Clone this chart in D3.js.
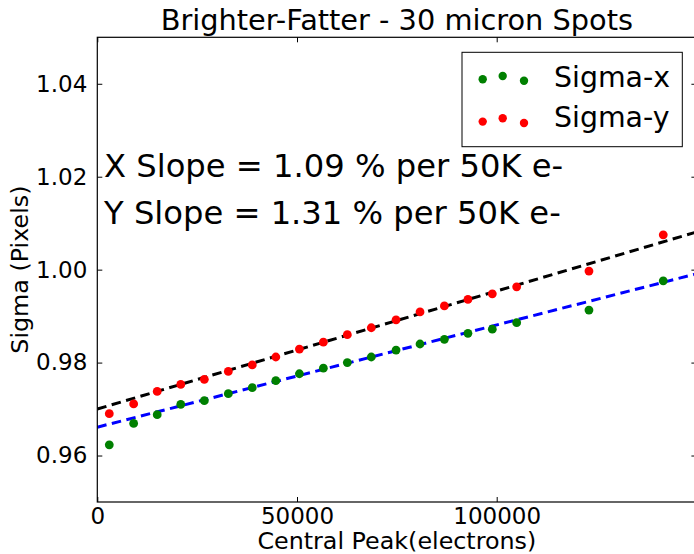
<!DOCTYPE html>
<html>
<head>
<meta charset="utf-8">
<script src="https://cdn.jsdelivr.net/npm/d3@7"></script>
<style>
  html, body { margin: 0; padding: 0; background: #fff; }
  svg { display: block; }
  text { font-family: "DejaVu Sans", sans-serif; fill: #000; }
</style>
</head>
<body>
<svg id="chart" width="694" height="554"></svg>
<script>
// ---- data ----
const centralPeak = [3000, 9100, 15000, 20900, 26800, 32800, 38800, 44700, 50600, 56600,
                     62600, 68600, 74800, 80800, 86900, 92800, 98900, 105000, 123100, 141700];
const sigmaX = [0.9623, 0.9669, 0.9688, 0.9710, 0.9718, 0.9733, 0.9746, 0.9761, 0.9776, 0.9788,
                0.9800, 0.9812, 0.9827, 0.9840, 0.9850, 0.9863, 0.9872, 0.9886, 0.9913, 0.9976];
const sigmaY = [0.9690, 0.9711, 0.9738, 0.9753, 0.9764, 0.9781, 0.9795, 0.9812, 0.9829, 0.9844,
                0.9860, 0.9875, 0.9892, 0.9909, 0.9922, 0.9936, 0.9948, 0.9963, 0.9997, 1.0075];
// linear fits: [intercept, change per 50K electrons]
const fitX = [0.9661, 0.0110];
const fitY = [0.9700, 0.0127];
const xTicks = [0, 50000, 100000];
const yTicks = [0.96, 0.98, 1.00, 1.02, 1.04];
const xDomain = [0, 150000];
const yDomain = [0.95, 1.05];
const seriesNames = ["Sigma-x", "Sigma-y"];
const annotations = ["X Slope = 1.09 % per 50K e-", "Y Slope = 1.31 % per 50K e-"];

// ---- layout ----
const svg = d3.select("#chart");
const L = 97.3, R = 696.4, T = 37.3, B = 502;
const x = d3.scaleLinear().domain(xDomain).range([L, R]);
const y = d3.scaleLinear().domain(yDomain).range([B, T]);

svg.append("defs").append("clipPath").attr("id", "clip")
  .append("rect").attr("x", L).attr("y", T).attr("width", R - L).attr("height", B - T);

const plot = svg.append("g").attr("clip-path", "url(#clip)");

// fit lines
const lineGen = d3.line().x(d => x(d[0])).y(d => y(d[1]));
function fitPts(f) { return xDomain.map(v => [v, f[0] + f[1] * v / 50000]); }
plot.append("path").datum(fitPts(fitY)).attr("d", lineGen)
  .attr("fill", "none").attr("stroke", "#000").attr("stroke-width", 3).attr("stroke-dasharray", "9.5,5.5");
plot.append("path").datum(fitPts(fitX)).attr("d", lineGen)
  .attr("fill", "none").attr("stroke", "#0000ff").attr("stroke-width", 3).attr("stroke-dasharray", "9.5,5.5");

// points
plot.selectAll("circle.sx").data(centralPeak).join("circle").attr("class", "sx")
  .attr("cx", d => x(d)).attr("cy", (d, i) => y(sigmaX[i])).attr("r", 4.4).attr("fill", "#008000");
plot.selectAll("circle.sy").data(centralPeak).join("circle").attr("class", "sy")
  .attr("cx", d => x(d)).attr("cy", (d, i) => y(sigmaY[i])).attr("r", 4.4).attr("fill", "#ff0000");

// axes (matplotlib classic: inward ticks on all sides)
const tl = 5;
const gx = svg.append("g").attr("transform", `translate(0,${B})`)
  .call(d3.axisBottom(x).tickValues(xTicks).tickSizeInner(-tl).tickSizeOuter(0).tickPadding(6).tickFormat(d3.format("d")));
const gxt = svg.append("g").attr("transform", `translate(0,${T})`)
  .call(d3.axisTop(x).tickValues(xTicks).tickSizeInner(-tl).tickSizeOuter(0).tickFormat(""));
const gy = svg.append("g").attr("transform", `translate(${L},0)`)
  .call(d3.axisLeft(y).tickValues(yTicks).tickSizeInner(-tl).tickSizeOuter(0).tickPadding(10).tickFormat(d3.format(".2f")));
const gyr = svg.append("g").attr("transform", `translate(${R},0)`)
  .call(d3.axisRight(y).tickValues(yTicks).tickSizeInner(-tl).tickSizeOuter(0).tickFormat(""));
[gx, gxt, gy, gyr].forEach(g => {
  g.select(".domain").remove();
  g.selectAll(".tick line").attr("stroke", "#000").attr("stroke-width", 1);
  g.selectAll(".tick text").style("font-family", "DejaVu Sans").style("font-size", "23px").attr("fill", "#000");
});
gx.selectAll(".tick text").attr("dy", "0.71em");
svg.append("rect").attr("x", L).attr("y", T).attr("width", R - L).attr("height", B - T)
  .attr("fill", "none").attr("stroke", "#000").attr("stroke-width", 1.2);

// title & labels
svg.append("text").attr("x", (L + R) / 2).attr("y", 30).attr("text-anchor", "middle")
  .style("font-size", "28.8px").text("Brighter-Fatter - 30 micron Spots");
svg.append("text").attr("x", (L + R) / 2).attr("y", 549).attr("text-anchor", "middle")
  .style("font-size", "23.8px").text("Central Peak(electrons)");
svg.append("text").attr("transform", `translate(28,${(T + B) / 2}) rotate(-90)`).attr("text-anchor", "middle")
  .style("font-size", "23.8px").text("Sigma (Pixels)");

// annotations
svg.selectAll("text.ann").data(annotations).join("text").attr("class", "ann")
  .attr("x", 104).attr("y", (d, i) => 177 + i * 46.5)
  .style("font-size", "32.2px").text(d => d);

// legend
const lg = svg.append("g");
lg.append("rect").attr("x", 462).attr("y", 52.3).attr("width", 220.3).attr("height", 94.4)
  .attr("fill", "#fff").attr("stroke", "#000").attr("stroke-width", 1);
const legendColors = ["#008000", "#ff0000"];
const dotXs = [482.7, 502.7, 524];
const dotDy = [3.3, 0, 4.7];
seriesNames.forEach((name, i) => {
  const cy = 76 + i * 42.3;
  dotXs.forEach((dx, j) => {
    lg.append("circle").attr("cx", dx).attr("cy", cy + dotDy[j]).attr("r", 4.2).attr("fill", legendColors[i]);
  });
  lg.append("text").attr("x", 554).attr("y", 87 + i * 40).style("font-size", "28.4px").text(name);
});
</script>
</body>
</html>
